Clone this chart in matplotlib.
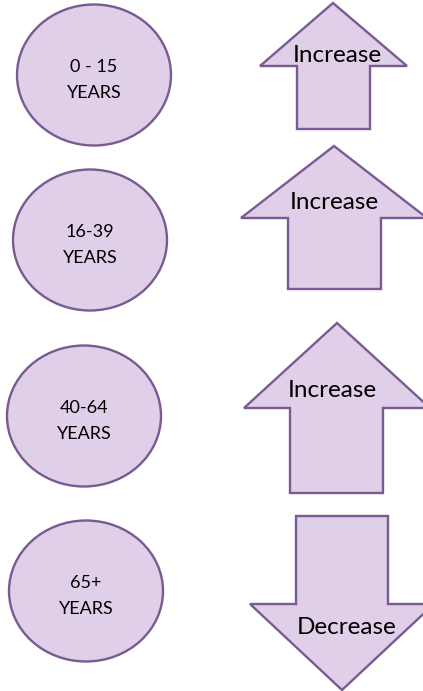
import matplotlib
matplotlib.use("Agg")
import matplotlib.pyplot as plt
from matplotlib.patches import Ellipse, Polygon

# ---- data ----
age_groups = ["0 - 15", "16-39", "40-64", "65+"]
age_unit = "YEARS"
trends = ["Increase", "Increase", "Increase", "Decrease"]

# ---- layout (pixel coordinates, y downward) ----
ellipse_centers = [(94, 75), (90, 240), (84, 416), (86, 591)]
ellipse_size = (154, 141)
# arrow geometry: (tip_x, tip_y, head_base_y, head_left, head_right, shaft_left, shaft_right, shaft_end_y)
arrow_geom = [
    (333, 3, 66, 260, 407, 297, 370, 129),
    (334, 146, 218, 241, 427, 288, 381, 289),
    (337, 323, 408, 244, 430, 290, 383, 493),
    (342, 690, 604, 250, 434, 296, 388, 516),
]
label_pos = [(337, 55), (334, 202), (332, 390), (347, 627)]

FILL = "#dfcfe8"
EDGE = "#7a5a92"
FONT = ["Lato", "DejaVu Sans"]

fig = plt.figure(figsize=(4.23, 6.91), dpi=100)
ax = fig.add_axes([0, 0, 1, 1])
ax.set_xlim(0, 423)
ax.set_ylim(691, 0)
ax.axis("off")

for (cx, cy), label in zip(ellipse_centers, age_groups):
    ax.add_patch(Ellipse((cx, cy), ellipse_size[0], ellipse_size[1],
                         facecolor=FILL, edgecolor=EDGE, linewidth=1.7))
    ax.text(cx, cy - 8.5, label, ha="center", va="center", fontsize=13,
            family=FONT, color="black")
    ax.text(cx, cy + 17.5, age_unit, ha="center", va="center", fontsize=13,
            family=FONT, color="black")

for g, trend, (lx, ly) in zip(arrow_geom, trends, label_pos):
    tx, ty, hb, hl, hr, sl, sr, se = g
    pts = [(tx, ty), (hr, hb), (sr, hb), (sr, se), (sl, se), (sl, hb), (hl, hb)]
    ax.add_patch(Polygon(pts, closed=True, facecolor=FILL, edgecolor=EDGE,
                         linewidth=1.7, joinstyle="miter", clip_on=True))
    ax.text(lx, ly, trend, ha="center", va="center", fontsize=17.5,
            family=FONT, color="black")

fig.savefig("out.png", dpi=100, facecolor="white")
